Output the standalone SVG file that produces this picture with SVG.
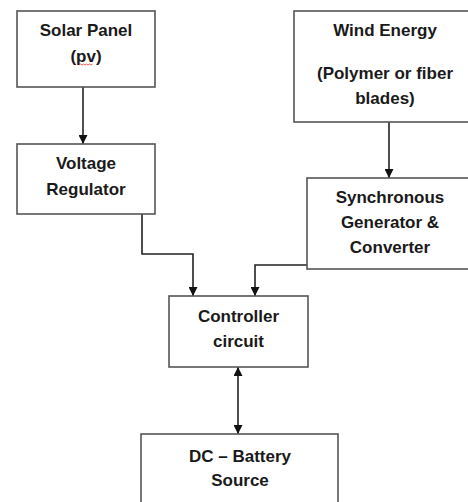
<svg xmlns="http://www.w3.org/2000/svg" width="468" height="502" viewBox="0 0 468 502">
<defs>
<style>
.box{fill:#fff;stroke:#555;stroke-width:1.6}
.t{font-family:"Liberation Sans",Arial,sans-serif;font-weight:bold;font-size:17px;fill:#1a1a1a;text-anchor:middle}
.c{fill:none;stroke:#222;stroke-width:1.6}
</style>
<marker id="ah" viewBox="0 0 10 10" refX="10" refY="5" markerWidth="9" markerHeight="9" markerUnits="userSpaceOnUse" orient="auto-start-reverse">
<path d="M0,0 L10,5 L0,10 Z" fill="#111"/>
</marker>
</defs>
<rect width="468" height="502" fill="#fff"/>
<g id="connectors">
<path class="c" d="M83,87 V144" marker-end="url(#ah)"/>
<path class="c" d="M389,122 V178" marker-end="url(#ah)"/>
<path class="c" d="M142,214 V254 H193 V296" marker-end="url(#ah)"/>
<path class="c" d="M307,265 H255 V296" marker-end="url(#ah)"/>
<path class="c" d="M238,367 V434" marker-start="url(#ah)" marker-end="url(#ah)"/>
</g>
<g id="solar">
<rect class="box" x="17" y="11" width="138" height="76"/>
<text class="t" x="86" y="36">Solar Panel</text>
<text class="t" x="86" y="62">(pv)</text>
<path d="M79,65 l1.5,-1 1.5,1 1.5,-1 1.5,1 1.5,-1 1.5,1 1.5,-1 1.5,1 1.5,-1" fill="none" stroke="#d33" stroke-width="0.8"/>
</g>
<g id="regulator">
<rect class="box" x="17" y="144" width="138" height="70"/>
<text class="t" x="86" y="169">Voltage</text>
<text class="t" x="86" y="195">Regulator</text>
</g>
<g id="wind">
<rect class="box" x="294" y="11" width="182" height="111"/>
<text class="t" x="385" y="36">Wind Energy</text>
<text class="t" x="385" y="79">(Polymer or fiber</text>
<text class="t" x="385" y="104">blades)</text>
</g>
<g id="generator">
<rect class="box" x="307" y="178" width="168" height="91"/>
<text class="t" x="390" y="203">Synchronous</text>
<text class="t" x="390" y="228">Generator &amp;</text>
<text class="t" x="390" y="253">Converter</text>
</g>
<g id="controller">
<rect class="box" x="169" y="296" width="139" height="71"/>
<text class="t" x="238.5" y="322">Controller</text>
<text class="t" x="238.5" y="347">circuit</text>
</g>
<g id="battery">
<rect class="box" x="141" y="434" width="197" height="80"/>
<text class="t" x="240" y="462">DC – Battery</text>
<text class="t" x="240" y="486">Source</text>
</g>
</svg>
